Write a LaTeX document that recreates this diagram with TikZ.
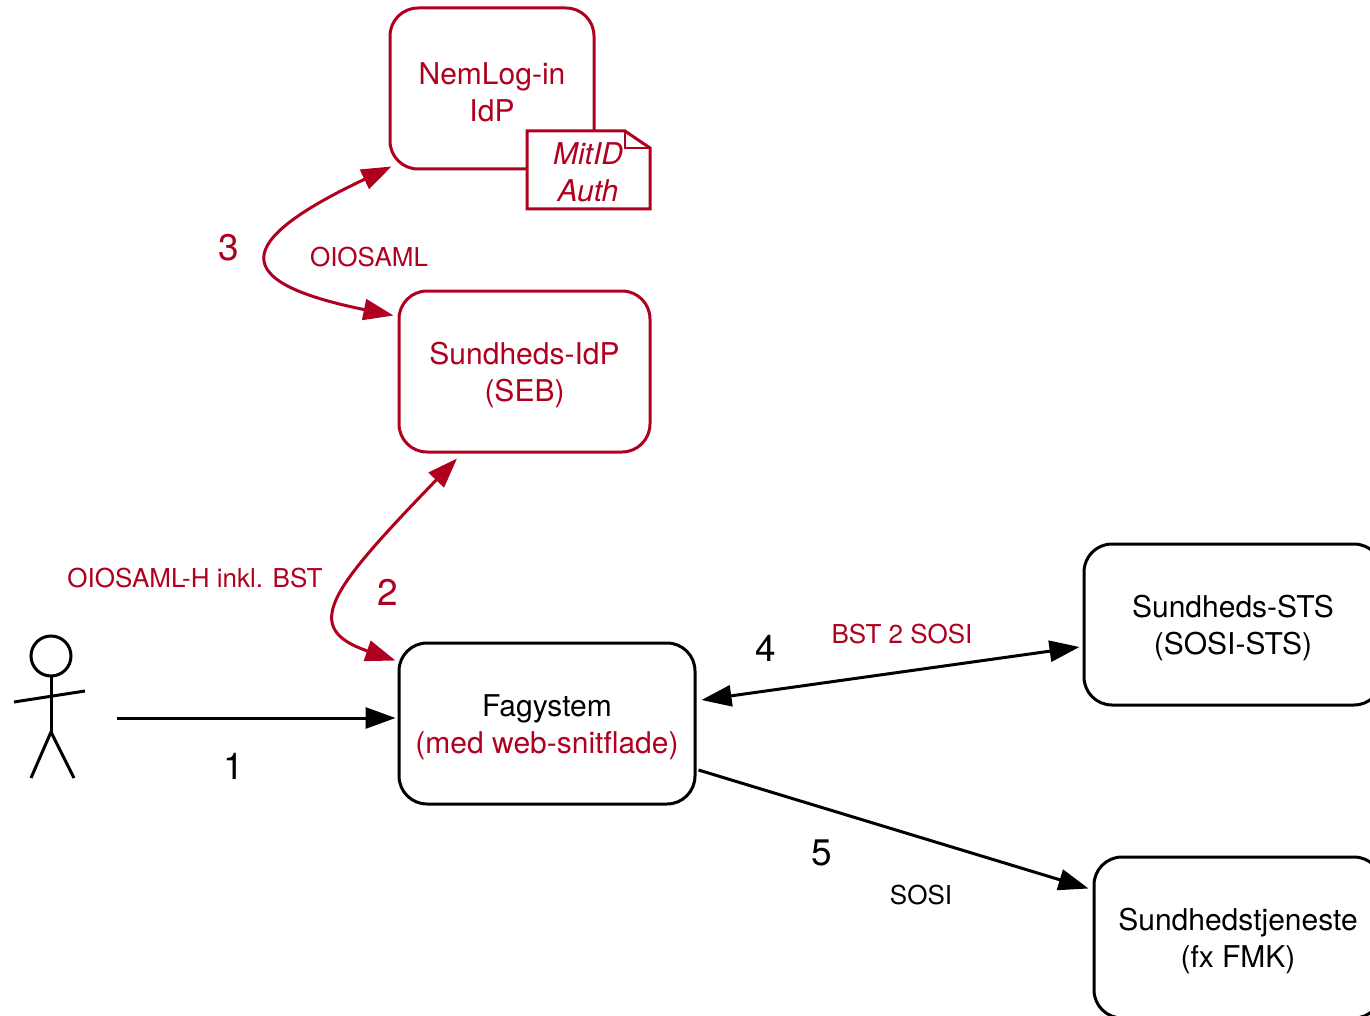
\documentclass[tikz,border=0pt]{standalone}
\usepackage{fontspec}
\setmainfont{TeX Gyre Heros}
\usetikzlibrary{arrows.meta,calc}
\definecolor{myred}{RGB}{176,0,32}
\tikzset{
  box/.style={draw, line width=3pt, rounded corners=28pt, inner sep=0pt, fill=white},
  redbox/.style={box, draw=myred},
  boxtext/.style={align=center, font=\fontsize{30}{37}\selectfont, inner sep=0pt},
  lab/.style={font=\fontsize{26}{30}\selectfont, inner sep=0pt},
  num/.style={font=\fontsize{37}{40}\selectfont, inner sep=0pt},
  tipx/.tip={Triangle[length=30pt,width=21pt]},
  conn/.style={line width=3pt},
}
\begin{document}
\begin{tikzpicture}[x=1pt,y=-1pt]
\useasboundingbox (0,0) rectangle (1370,1016);
\clip (0,0) rectangle (1370,1016);
% boxes
\node[redbox, minimum width=204pt, minimum height=161pt] (nem) at (492,88.5) {};
\node[boxtext, text=myred] (nemt) at ($(nem)+(0,3.5)$) {NemLog-in\\IdP};
\node[redbox, minimum width=251pt, minimum height=161pt] (seb) at (524.5,371.5) {};
\node[boxtext, text=myred] (sebt) at ($(seb)+(0,3.5)$) {Sundheds-IdP\\(SEB)};
\node[box, minimum width=296pt, minimum height=161pt] (fag) at (547,723.5) {};
\node[boxtext] (fagt) at ($(fag)+(0,3.5)$) {Fagystem\\\textcolor{myred}{(med web-snitflade)}};
\node[box, minimum width=298pt, minimum height=161pt] (sts) at (1233,624.5) {};
\node[boxtext] (stst) at ($(sts)+(0,3.5)$) {Sundheds-STS\\(SOSI-STS)};
\node[box, minimum width=288pt, minimum height=161pt] (tj) at (1238,937.5) {};
\node[boxtext] (tjt) at ($(tj)+(0,3.5)$) {Sundhedstjeneste\\(fx FMK)};
% MitID document
\draw[myred, line width=3pt, fill=white, line join=miter]
  (527,131) -- (625,131) -- (650,148) -- (650,209) -- (527,209) -- cycle;
\draw[myred, line width=2.5pt, line join=miter] (625,131) -- (625,148) -- (650,148);
\node[text=myred, font=\fontsize{30}{37}\selectfont\itshape, align=center, inner sep=0pt] (mitid) at (588,172) {MitID\\Auth};
% person
\draw[line width=3pt] (51,656) circle (20);
\draw[line width=3pt] (51,676) -- (51,732);
\draw[line width=3pt] (14,702) -- (85,691);
\draw[line width=3pt] (31,778) -- (51,732) -- (74,778);
\coordinate (person) at (117,718);
% connector endpoints
\coordinate (c1) at ($(fag.west)+(-2,-5.5)$);
\coordinate (c2a) at ($(seb.south)+(-67.5,5)$);
\coordinate (c2b) at ($(fag.north west)+(-2,19)$);
\coordinate (c3a) at ($(nem.south west)+(3,-4)$);
\coordinate (c3b) at ($(seb.north west)+(-4,26)$);
\coordinate (c4a) at ($(fag.east)+(5,-23.5)$);
\coordinate (c4b) at ($(sts.west)+(-3,22.5)$);
\coordinate (c5a) at ($(fag.east)+(2,46.5)$);
\coordinate (c5b) at ($(tj.north west)+(-4,33)$);
% connectors
\draw[conn, -tipx] (person) -- (c1);
\draw[conn, myred, tipx-tipx] (c2a) .. controls (330,590) and (300,628) .. (c2b);
\draw[conn, myred, tipx-tipx] (c3a) .. controls (232,242) and (228,282) .. (c3b);
\draw[conn, tipx-tipx] (c4a) -- (c4b);
\draw[conn, -tipx] (c5a) -- (c5b);
% labels
\node[lab, text=myred] (l2) at (195,578) {OIOSAML-H inkl. BST};
\node[num, text=myred] (n2) at (388,592) {2};
\node[num, text=myred] (n3) at (229,248) {3};
\node[lab, text=myred] (l3) at (369,257) {OIOSAML};
\node[num] (n1) at (234,766) {1};
\node[num] (n4) at (766,648) {4};
\node[lab, text=myred] (l4) at (902,634) {BST 2 SOSI};
\node[num] (n5) at (822,853) {5};
\node[lab] (l5) at (921,895) {SOSI};
\end{tikzpicture}
\end{document}
